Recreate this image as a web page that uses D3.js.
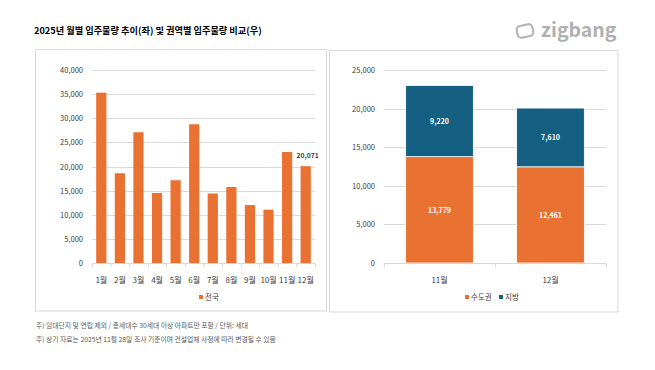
<!DOCTYPE html>
<html><head><meta charset="utf-8">
<script src="https://cdn.jsdelivr.net/npm/d3@7"></script>
<style>
html,body{margin:0;padding:0;background:#fff;}
text{font-family:"Noto Sans CJK KR","Noto Sans",sans-serif;}
</style></head>
<body>
<svg id="c" width="655" height="370"></svg>
<script>
const titleText = "2025년 월별 입주물량 추이(좌) 및 권역별 입주물량 비교(우)";
const months = ["1월","2월","3월","4월","5월","6월","7월","8월","9월","10월","11월","12월"];
const nationwide = [35300,18600,27100,14500,17150,28750,14400,15750,12000,11050,22999,20071];
const leftTicks = [0,5000,10000,15000,20000,25000,30000,35000,40000];
const regionMonths = ["11월","12월"];
const capital = [13779,12461];
const local = [9220,7610];
const rightTicks = [0,5000,10000,15000,20000,25000];
const seriesNames = ["수도권","지방"];
const footnotes = ["주) 임대단지 및 연립 제외 / 총세대수 30세대 이상 아파트만 포함 / 단위: 세대",
                   "주) 상기 자료는 2025년 11월 28일 조사 기준이며 건설업체 사정에 따라 변경될 수 있음"];

const ORANGE = "#E97132", BLUE = "#156082", GRID = "#d9d9d9", TXT = "#404040";
const svg = d3.select("#c");
const fmt = d3.format(",");

// title
svg.append("text").attr("x",34).attr("y",34).attr("font-size",9.2).attr("font-weight",700)
  .attr("fill","#000").text(titleText);

// logo
const logo = svg.append("g").attr("transform","translate(525,31) rotate(-12)");
logo.append("rect").attr("x",-8).attr("y",-6).attr("width",16).attr("height",12).attr("rx",4)
  .attr("fill","none").attr("stroke","#b5b5b5").attr("stroke-width",2.2);
svg.append("text").attr("x",541).attr("y",37).attr("font-family","Lato, 'Open Sans', sans-serif")
  .attr("font-size",19.5).attr("font-weight",700).attr("fill","#b0b0b0").text("zigbang");

// panels
svg.append("rect").attr("x",35.5).attr("y",49.5).attr("width",291).attr("height",261.5)
  .attr("fill","#fff").attr("stroke",GRID);
svg.append("rect").attr("x",329.5).attr("y",50.5).attr("width",288.5).attr("height",261.5)
  .attr("fill","#fff").attr("stroke",GRID);

// ---------- left chart ----------
const yL = d3.scaleLinear().domain([0,40000]).range([263,70]);
const xL = d3.scaleBand().domain(months).range([92,315]).paddingInner(0.45).paddingOuter(0.225);
const gL = svg.append("g");
gL.append("g").selectAll("line").data(leftTicks.slice(1)).join("line")
  .attr("x1",92).attr("x2",315).attr("y1",d=>Math.round(yL(d))+0.5).attr("y2",d=>Math.round(yL(d))+0.5)
  .attr("stroke",GRID).attr("stroke-width",1);
gL.append("g").selectAll("text").data(leftTicks).join("text")
  .attr("x",83).attr("y",d=>yL(d)+3).attr("text-anchor","end").attr("font-size",7.5).attr("fill",TXT)
  .text(d=>fmt(d));
gL.append("g").selectAll("rect").data(nationwide).join("rect")
  .attr("x",(d,i)=>xL(months[i])).attr("width",xL.bandwidth())
  .attr("y",d=>yL(d)).attr("height",d=>yL(0)-yL(d)).attr("fill",ORANGE);
// x axis
const axL = d3.axisBottom(d3.scaleLinear().domain([0,12]).range([92,315])).ticks(12).tickSize(4).tickFormat("");
const axLg = gL.append("g").attr("transform","translate(0,263.5)").call(axL);
axLg.selectAll("path,line").attr("stroke",GRID);
axLg.select("path").attr("d","M92,0H315");
gL.append("g").selectAll("text").data(months).join("text")
  .attr("x",d=>xL(d)+xL.bandwidth()/2).attr("y",283).attr("text-anchor","middle")
  .attr("font-size",8).attr("fill",TXT).text(d=>d);
// data label for last
gL.append("text").attr("x",xL(months[11])+xL.bandwidth()/2+2).attr("y",yL(nationwide[11])-8)
  .attr("text-anchor","middle").attr("font-size",6.8).attr("font-weight",700).attr("fill",TXT)
  .text(fmt(nationwide[11]));
// legend
gL.append("rect").attr("x",199).attr("y",295).attr("width",4).attr("height",4).attr("fill",ORANGE);
gL.append("text").attr("x",205).attr("y",300).attr("font-size",7.5).attr("fill",TXT).text("전국");

// ---------- right chart ----------
const yR = d3.scaleLinear().domain([0,25000]).range([263,70]);
const xR = d3.scaleBand().domain(regionMonths).range([384,606]).paddingInner(0.39).paddingOuter(0.195);
const gR = svg.append("g");
gR.append("g").selectAll("line").data(rightTicks.slice(1)).join("line")
  .attr("x1",384).attr("x2",606).attr("y1",d=>Math.round(yR(d))+0.5).attr("y2",d=>Math.round(yR(d))+0.5)
  .attr("stroke",GRID);
gR.append("g").selectAll("text").data(rightTicks).join("text")
  .attr("x",375).attr("y",d=>yR(d)+3).attr("text-anchor","end").attr("font-size",7.5).attr("fill",TXT)
  .text(d=>fmt(d));
const stackData = regionMonths.map((m,i)=>({m, "수도권":capital[i], "지방":local[i]}));
const stacked = d3.stack().keys(seriesNames)(stackData);
const colors = {"수도권":ORANGE,"지방":BLUE};
stacked.forEach(s=>{
  const g = gR.append("g");
  g.selectAll("rect").data(s).join("rect")
    .attr("x",d=>xR(d.data.m)).attr("width",xR.bandwidth())
    .attr("y",d=>yR(d[1])).attr("height",d=>yR(d[0])-yR(d[1]))
    .attr("fill",colors[s.key]).attr("stroke","#fff").attr("stroke-width",0.8);
  g.selectAll("text").data(s).join("text")
    .attr("x",d=>xR(d.data.m)+xR.bandwidth()/2).attr("y",d=>(yR(d[0])+yR(d[1]))/2+3)
    .attr("text-anchor","middle").attr("font-size",7).attr("font-weight",700).attr("fill","#fff")
    .text(d=>fmt(d[1]-d[0]));
});
const axR = d3.axisBottom(d3.scaleLinear().domain([0,2]).range([384,606])).ticks(2).tickSize(4).tickFormat("");
const axRg = gR.append("g").attr("transform","translate(0,263.5)").call(axR);
axRg.selectAll("path,line").attr("stroke",GRID);
axRg.select("path").attr("d","M384,0H606");
gR.append("g").selectAll("text").data(regionMonths).join("text")
  .attr("x",d=>xR(d)+xR.bandwidth()/2).attr("y",283).attr("text-anchor","middle")
  .attr("font-size",8).attr("fill",TXT).text(d=>d);
const leg = gR.append("g");
[[465,"수도권"],[499,"지방"]].forEach(([x,k])=>{
  leg.append("rect").attr("x",x).attr("y",295).attr("width",4).attr("height",4).attr("fill",colors[k]);
  leg.append("text").attr("x",x+6).attr("y",300).attr("font-size",7.5).attr("fill",TXT).text(k);
});

// footnotes
svg.selectAll("text.fn").data(footnotes).join("text").attr("class","fn")
  .attr("x",36).attr("y",(d,i)=>328+i*13.5).attr("font-size",6.8).attr("fill","#595959").text(d=>d);
</script>
</body></html>
